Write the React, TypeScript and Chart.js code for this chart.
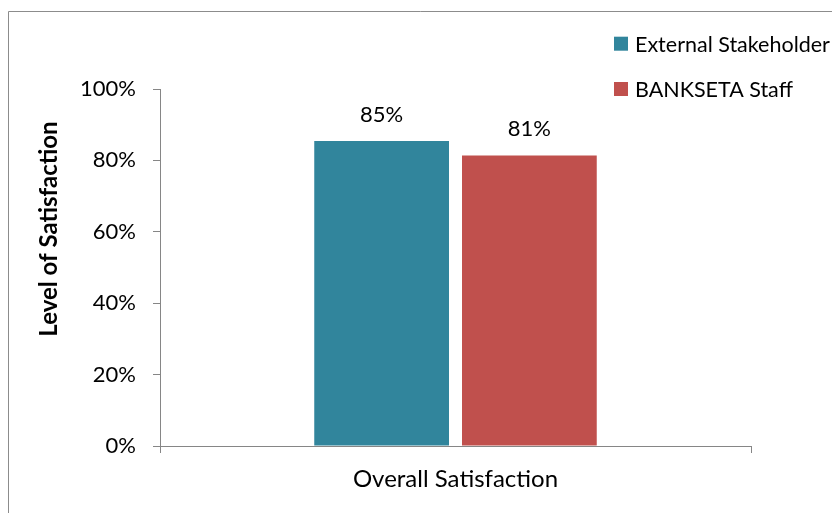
import React, { useEffect, useRef } from 'react';
import { Chart, registerables } from 'chart.js';

Chart.register(...registerables);

const categories = ['Overall Satisfaction'];
const seriesNames = ['External Stakeholder', 'BANKSETA Staff'];
const externalValues = [85.4];
const staffValues = [81.4];
const seriesColors = ['#31859C', '#C0504D'];
const yTickValues = [0, 20, 40, 60, 80, 100];
const yTitle = 'Level of Satisfaction';

const FONT = 'Lato, "Open Sans", sans-serif';
const AXIS_GRAY = '#868686';

const framePlugin = {
  id: 'frame',
  beforeDraw(chart: any) {
    const { ctx, width, height } = chart;
    ctx.save();
    ctx.fillStyle = '#ffffff';
    ctx.fillRect(0, 0, width, height);
    ctx.strokeStyle = '#8c8c8c';
    ctx.lineWidth = 1;
    ctx.beginPath();
    ctx.moveTo(8.5, height);
    ctx.lineTo(8.5, 11.5);
    ctx.lineTo(width, 11.5);
    ctx.stroke();
    ctx.restore();
  },
};

const yTitlePlugin = {
  id: 'yTitle',
  afterDraw(chart: any) {
    const { ctx } = chart;
    ctx.save();
    ctx.translate(57, 229);
    ctx.rotate(-Math.PI / 2);
    ctx.font = `bold 24px ${FONT}`;
    ctx.fillStyle = '#000000';
    ctx.textAlign = 'center';
    ctx.textBaseline = 'alphabetic';
    ctx.fillText(yTitle, 0, 0);
    ctx.restore();
  },
};

const valueLabelPlugin = {
  id: 'valueLabels',
  afterDatasetsDraw(chart: any) {
    const { ctx } = chart;
    ctx.save();
    ctx.font = `22px ${FONT}`;
    ctx.fillStyle = '#000000';
    ctx.textAlign = 'center';
    ctx.textBaseline = 'alphabetic';
    chart.data.datasets.forEach((ds: any, i: number) => {
      const meta = chart.getDatasetMeta(i);
      meta.data.forEach((bar: any, j: number) => {
        const v = ds.data[j];
        ctx.fillText(Math.round(v) + '%', bar.x, bar.y - 19);
      });
    });
    ctx.restore();
  },
};

const legendPlugin = {
  id: 'customLegend',
  afterDraw(chart: any) {
    const { ctx } = chart;
    ctx.save();
    ctx.font = `21.5px ${FONT}`;
    ctx.textBaseline = 'middle';
    ctx.textAlign = 'left';
    const x0 = 614;
    const rowCenters = [43.7, 89];
    chart.data.datasets.forEach((ds: any, i: number) => {
      const cy = rowCenters[i];
      ctx.fillStyle = ds.backgroundColor;
      ctx.fillRect(x0, cy - 7, 14, 14);
      ctx.fillStyle = '#000000';
      ctx.fillText(ds.label, x0 + 21, cy + 1);
    });
    ctx.restore();
  },
};

export default function App() {
  const ref = useRef<HTMLCanvasElement | null>(null);

  useEffect(() => {
    if (!ref.current) return;
    const chart = new Chart(ref.current, {
      type: 'bar',
      data: {
        labels: categories,
        datasets: [
          {
            label: seriesNames[0],
            data: externalValues,
            backgroundColor: seriesColors[0],
            categoryPercentage: 0.5,
            barPercentage: 0.912,
          },
          {
            label: seriesNames[1],
            data: staffValues,
            backgroundColor: seriesColors[1],
            categoryPercentage: 0.5,
            barPercentage: 0.912,
          },
        ],
      },
      options: {
        animation: false,
        responsive: false,
        devicePixelRatio: 1,
        layout: { padding: { left: 40, top: 89, right: 81, bottom: 0 } },
        plugins: {
          legend: { display: false },
          tooltip: { enabled: false },
        },
        scales: {
          x: {
            grid: {
              display: true,
              drawOnChartArea: false,
              drawTicks: true,
              tickLength: 7,
              color: AXIS_GRAY,
              offset: true,
            },
            border: { display: true, color: AXIS_GRAY, width: 1 },
            ticks: {
              color: '#000000',
              font: { family: FONT, size: 24 },
              padding: 12,
            },
            afterFit: (s: any) => {
              s.height = 67;
            },
          },
          y: {
            min: 0,
            max: 100,
            afterBuildTicks: (s: any) => {
              s.ticks = yTickValues.map((v) => ({ value: v }));
            },
            grid: {
              display: true,
              drawOnChartArea: false,
              drawTicks: true,
              tickLength: 7,
              color: AXIS_GRAY,
            },
            border: { display: true, color: AXIS_GRAY, width: 1 },
            ticks: {
              color: '#000000',
              font: { family: FONT, size: 22 },
              padding: 17,
              callback: (v: any) => v + '%',
            },
            title: { display: false },
            afterFit: (s: any) => {
              s.width = 120;
            },
          },
        },
      },
      plugins: [framePlugin, valueLabelPlugin, legendPlugin, yTitlePlugin],
    });
    return () => chart.destroy();
  }, []);

  return (
    <canvas
      ref={ref}
      width={832}
      height={513}
      style={{ position: 'fixed', left: 0, top: 0, width: 832, height: 513, display: 'block' }}
    />
  );
}
